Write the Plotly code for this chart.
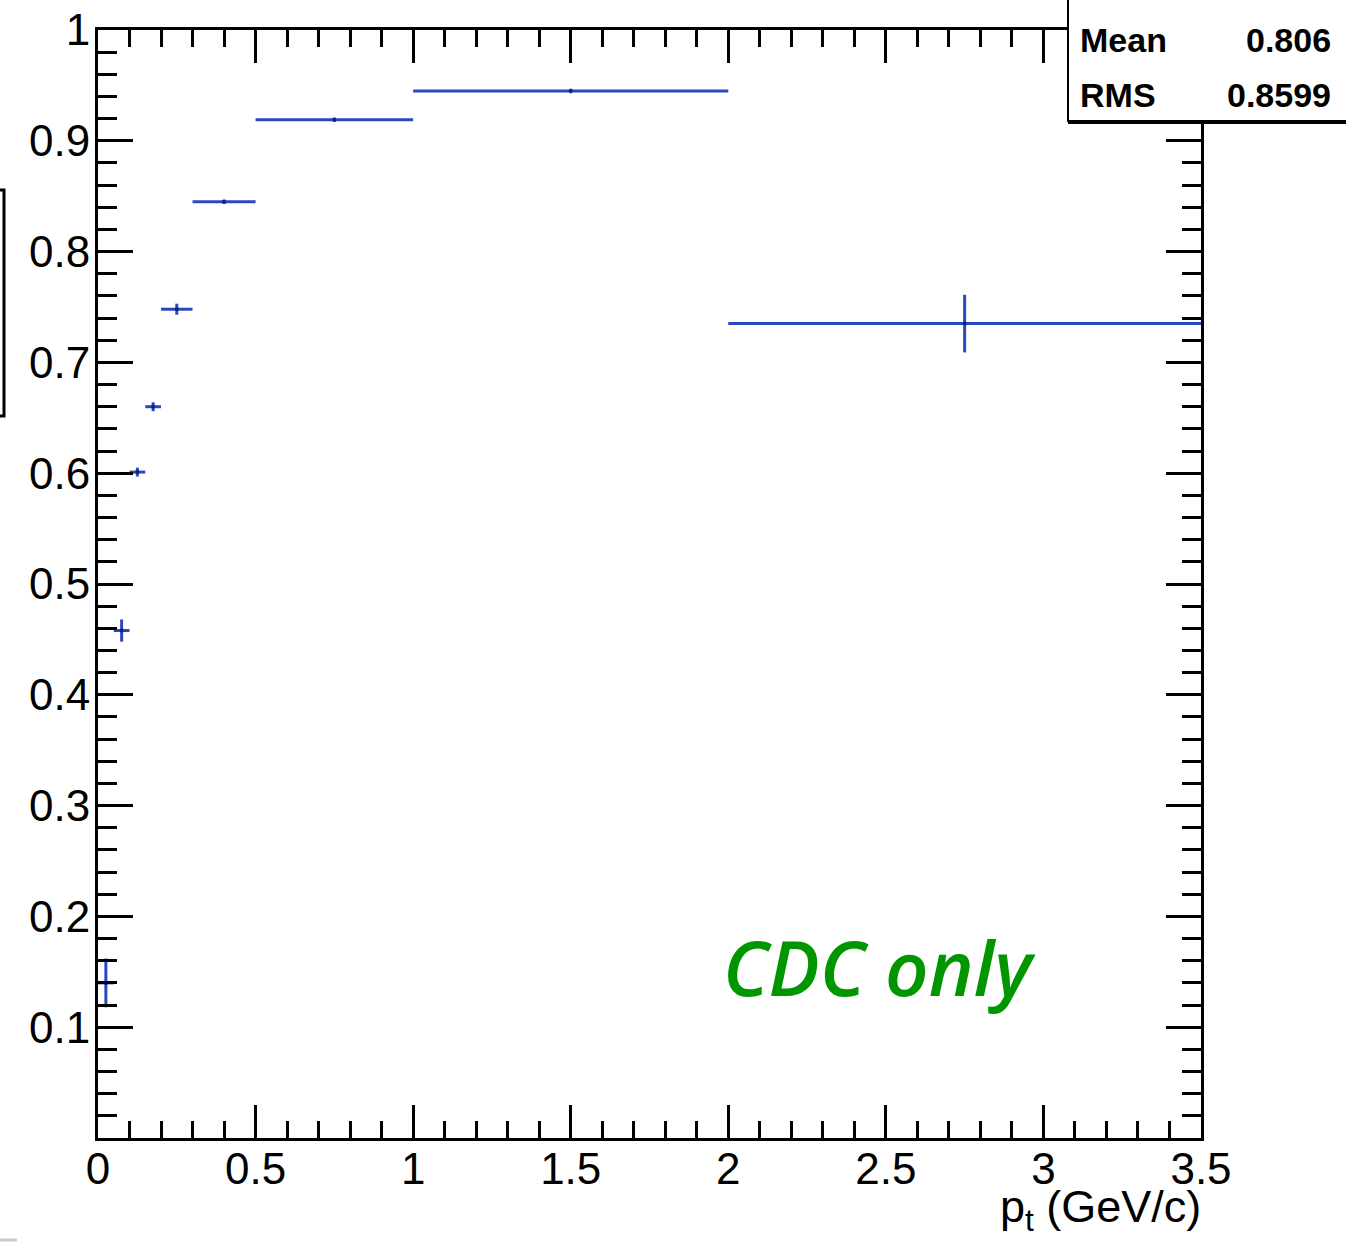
import plotly.graph_objects as go

# ---- data ----
bin_lo = [0.00, 0.05, 0.10, 0.15, 0.20, 0.30, 0.50, 1.00, 2.00]
bin_hi = [0.05, 0.10, 0.15, 0.20, 0.30, 0.50, 1.00, 2.00, 3.50]
eff    = [0.140, 0.458, 0.601, 0.660, 0.748, 0.845, 0.919, 0.945, 0.735]
eff_err = [0.022, 0.010, 0.004, 0.004, 0.005, 0.002, 0.002, 0.002, 0.026]

x_ticks = [0, 0.5, 1, 1.5, 2, 2.5, 3, 3.5]
x_ticktext = ["0", "0.5", "1", "1.5", "2", "2.5", "3", "3.5"]
y_ticks = [0.1, 0.2, 0.3, 0.4, 0.5, 0.6, 0.7, 0.8, 0.9, 1.0]
y_ticktext = ["0.1", "0.2", "0.3", "0.4", "0.5", "0.6", "0.7", "0.8", "0.9", "1"]

stats_labels = ["Mean", "RMS"]
stats_values = ["0.806", "0.8599"]
label_text = "CDC only"
x_title = "p<sub>t</sub> (GeV/c)"

# ---- geometry ----
W, H = 1346, 1243
L, R, T, B = 98, 1201, 30, 1138
PW, PH = R - L, B - T


def px(xp):
    return (xp - L) / PW


def py(yp):
    return (B - yp) / PH


x_c = [(a + b) / 2 for a, b in zip(bin_lo, bin_hi)]
x_hw = [(b - a) / 2 for a, b in zip(bin_lo, bin_hi)]

blue = "rgb(40,72,190)"
FONT = "Liberation Sans, Arial, sans-serif"

fig = go.Figure()
fig.add_trace(go.Scatter(
    x=x_c, y=eff, mode="markers",
    marker=dict(size=4, color="rgb(20,35,110)"),
    error_x=dict(type="data", array=x_hw, color=blue, thickness=3, width=0),
    error_y=dict(type="data", array=eff_err, color=blue, thickness=3, width=0),
    showlegend=False, hoverinfo="x+y",
))

axis_common = dict(
    showline=True, linecolor="black", linewidth=3, mirror="ticks",
    ticks="inside", tickcolor="black", tickwidth=2.5,
    showgrid=False, zeroline=False, automargin=False,
    tickfont=dict(family=FONT, size=44, color="black"),
)

fig.update_xaxes(
    range=[0, 3.5], tickvals=x_ticks, ticktext=x_ticktext, ticklen=33,
    ticklabelstandoff=-10,
    minor=dict(dtick=0.1, tick0=0, ticklen=17, tickwidth=2.5, tickcolor="black", ticks="inside"),
    **axis_common,
)
fig.update_yaxes(
    range=[0, 1.0], tickvals=y_ticks, ticktext=y_ticktext, ticklen=35,
    ticklabelstandoff=-4,
    minor=dict(dtick=0.02, tick0=0, ticklen=19, tickwidth=2.5, tickcolor="black", ticks="inside"),
    **axis_common,
)

shapes = []
# stats box (covers top-right corner)
shapes.append(dict(type="rect", xref="paper", yref="paper",
                   x0=px(1068), x1=px(1352), y0=py(121), y1=py(-5),
                   fillcolor="white", line=dict(color="black", width=2), layer="above"))
shapes.append(dict(type="line", xref="paper", yref="paper",
                   x0=px(1068), x1=px(1352), y0=py(122), y1=py(122),
                   line=dict(color="black", width=4), layer="above"))
# partially visible box at left edge
shapes.append(dict(type="rect", xref="paper", yref="paper",
                   x0=px(-30), x1=px(4), y0=py(416), y1=py(190),
                   fillcolor="rgba(0,0,0,0)", line=dict(color="black", width=3), layer="above"))
# faint line bottom-left
shapes.append(dict(type="line", xref="paper", yref="paper",
                   x0=px(0), x1=px(17), y0=py(1240), y1=py(1240),
                   line=dict(color="rgb(200,200,200)", width=3), layer="above"))

annotations = []
for i, (lab, val) in enumerate(zip(stats_labels, stats_values)):
    yc = 40 + i * 55
    annotations.append(dict(xref="paper", yref="paper", x=px(1078), y=py(yc),
                            xanchor="left", yanchor="middle", showarrow=False, text=lab,
                            font=dict(family=FONT, size=34, color="black", weight="bold")))
    annotations.append(dict(xref="paper", yref="paper", x=px(1333), y=py(yc),
                            xanchor="right", yanchor="middle", showarrow=False, text=val,
                            font=dict(family=FONT, size=34, color="black", weight="bold")))

annotations.append(dict(xref="paper", yref="paper", x=px(721), y=py(966),
                        xanchor="left", yanchor="middle", showarrow=False, text=label_text,
                        font=dict(family="Open Sans, sans-serif", size=76, color="rgb(0,150,0)",
                                  weight=600, style="italic")))
annotations.append(dict(xref="paper", yref="paper", x=px(1203), y=py(1209),
                        xanchor="right", yanchor="middle", showarrow=False, text=x_title,
                        font=dict(family=FONT, size=45, color="black")))

fig.update_layout(
    width=W, height=H,
    margin=dict(l=L, r=W - R, t=T, b=H - B, pad=0),
    paper_bgcolor="white", plot_bgcolor="white",
    shapes=shapes, annotations=annotations,
)

fig.write_html("out.html")
